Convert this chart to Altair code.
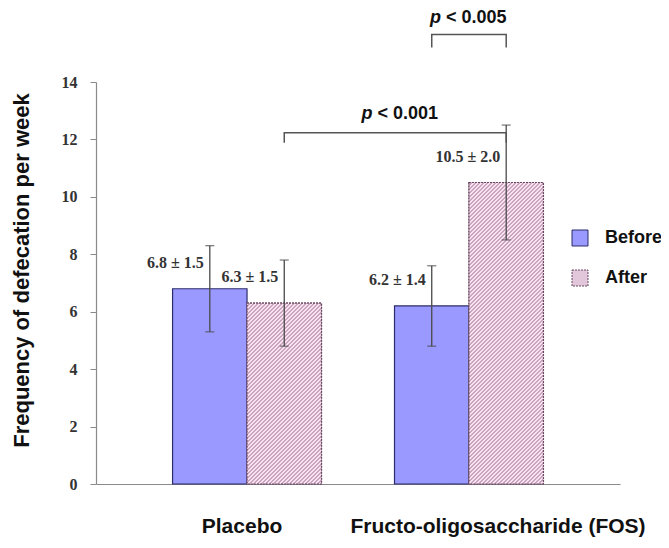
import altair as alt
import pandas as pd

# ---- data -------------------------------------------------------------
groups = ["Placebo", "Fructo-oligosaccharide (FOS)"]
phases = ["Before", "After"]
bar_group = ["Placebo", "Placebo",
             "Fructo-oligosaccharide (FOS)", "Fructo-oligosaccharide (FOS)"]
bar_phase = ["Before", "After", "Before", "After"]
means = [6.8, 6.3, 6.2, 10.5]
sds = [1.5, 1.5, 1.4, 2.0]
y_ticks = [0, 2, 4, 6, 8, 10, 12, 14]

# significance brackets (compared bars and bracket heights)
br_names = ["p < 0.001", "p < 0.005"]
br_from_group = ["Placebo", "Fructo-oligosaccharide (FOS)"]
br_from_phase = ["After", "Before"]
br_to_group = ["Fructo-oligosaccharide (FOS)", "Fructo-oligosaccharide (FOS)"]
br_to_phase = ["After", "After"]
br_top = [12.23, 15.65]
br_leg = [11.88, 15.2]

df = pd.DataFrame({"group": bar_group, "phase": bar_phase,
                   "mean": means, "sd": sds})
df["label"] = [f"{m:.1f} \u00b1 {s:.1f}" for m, s in zip(means, sds)]

rows = []
for i, name in enumerate(br_names):
    pts = [(br_from_group[i], br_from_phase[i], br_leg[i]),
           (br_from_group[i], br_from_phase[i], br_top[i]),
           (br_to_group[i], br_to_phase[i], br_top[i]),
           (br_to_group[i], br_to_phase[i], br_leg[i])]
    for k, (g, p, v) in enumerate(pts):
        rows.append({"bracket": name, "group": g, "phase": p, "y": v, "ord": k})
br_df = pd.DataFrame(rows)

p_df = pd.DataFrame({"bracket": br_names,
                     "group": ["Fructo-oligosaccharide (FOS)"] * 2,
                     "y": br_top,
                     "rest": [n[2:] for n in br_names]})

# ---- layout / style ---------------------------------------------------
W, H = 524, 402
Y_MAX = 14
P_IN, P_OUT = 0.329, 0.345
step = W / (len(groups) - P_IN + 2 * P_OUT)
bar_w = step * (1 - P_IN) / len(phases)

x_scale = alt.Scale(domain=groups, paddingInner=P_IN, paddingOuter=P_OUT)
xo_scale = alt.Scale(domain=phases, paddingInner=0, paddingOuter=0)
y_scale = alt.Scale(domain=[0, Y_MAX], nice=False, zero=True)

BLUE = "#9999FF"
PINK_AVG = "#E2C6DA"
LIGHT, DARK = "#F8E4EF", "#CBA4C2"


def hatch(w, h, period=4.0):
    """Diagonal '/' stripe fill expressed as a linear gradient (bbox units)."""
    k = (w + h) / (w * w + h * h)
    n = (w + h) / period
    stops = []
    i = 0
    while True:
        a, b, c = i / n, (i + 0.5) / n, (i + 1) / n
        if a >= 1:
            break
        stops.append({"offset": a, "color": LIGHT})
        stops.append({"offset": min(b, 1), "color": LIGHT})
        if b < 1:
            stops.append({"offset": b, "color": DARK})
            stops.append({"offset": min(c, 1), "color": DARK})
        i += 1
    return {"gradient": "linear", "x1": 0, "y1": 0,
            "x2": k * w, "y2": k * h, "stops": stops}


x_enc = alt.X("group:N", scale=x_scale, title=None, sort=groups,
              axis=alt.Axis(ticks=False, tickSize=0, domainColor="#8a8a8a",
                            domainWidth=1.2, labelAngle=0, labelLimit=0,
                            labelFont="Liberation Sans", labelFontWeight="bold",
                            labelFontSize=21, labelColor="#111111",
                            labelBaseline="alphabetic", labelPadding=48,
                            labelOffset={"condition": {"test": "datum.value === 'Placebo'",
                                                       "value": -5},
                                         "value": 29}))
xs = alt.X("group:N", scale=x_scale, sort=groups)
xo_enc = alt.XOffset("phase:N", scale=xo_scale, sort=phases)
y_enc = alt.Y("mean:Q", scale=y_scale, title="Frequency of defecation per week",
              axis=alt.Axis(values=y_ticks, grid=False, domainColor="#8a8a8a",
                            domainWidth=1.2, tickColor="#8a8a8a", tickSize=6,
                            labelFont="Liberation Serif", labelFontWeight="bold",
                            labelFontSize=16, labelColor="#333333",
                            labelPadding=13,
                            titleFont="Liberation Sans", titleFontWeight="bold",
                            titleFontSize=22, titleColor="#111111",
                            titleX=-63, titleY=188))

base = alt.Chart(df)

bars = base.mark_bar(strokeWidth=1.2).encode(
    x=x_enc,
    xOffset=xo_enc,
    y=y_enc,
    fill=alt.Fill("phase:N", sort=phases,
                  scale=alt.Scale(domain=phases, range=[BLUE, PINK_AVG]),
                  legend=alt.Legend(title=None, orient="none", legendX=475,
                                    legendY=147, padding=0, symbolType="square",
                                    symbolSize=256, symbolStrokeColor="#3a3a70",
                                    symbolStrokeWidth=1, labelOffset=16,
                                    rowPadding=20, labelFont="Liberation Sans",
                                    labelFontWeight="bold", labelFontSize=18,
                                    labelColor="#111111")),
    stroke=alt.Stroke("phase:N", sort=phases,
                      scale=alt.Scale(domain=phases, range=["#2B2B6B", "#6B4A63"]),
                      legend=None),
    strokeDash=alt.StrokeDash("phase:N", sort=phases,
                              scale=alt.Scale(domain=phases, range=[[1, 0], [2, 1]]),
                              legend=None),
)

# hatched overlays for the "After" bars
hatched = []
for g, p, m in zip(bar_group, bar_phase, means):
    if p != "After":
        continue
    h = m * H / Y_MAX
    layer = base.transform_filter(
        (alt.datum.group == g) & (alt.datum.phase == p)
    ).mark_bar(fill=hatch(bar_w, h), stroke="#6B4A63", strokeWidth=1.2,
               strokeDash=[2, 1]).encode(
        x=xs, xOffset=xo_enc, y=alt.Y("mean:Q", scale=y_scale))
    hatched.append(layer)

err = base.transform_calculate(
    lo="datum.mean - datum.sd", hi="datum.mean + datum.sd"
)
err_rule = err.mark_rule(color="#4a4a4a", strokeWidth=1.3).encode(
    x=xs, xOffset=xo_enc,
    y=alt.Y("lo:Q", scale=y_scale),
    y2="hi:Q",
)
cap_lo = err.mark_tick(color="#4a4a4a", size=9, thickness=1.3).encode(
    x=xs, xOffset=xo_enc, y=alt.Y("lo:Q", scale=y_scale),
)
cap_hi = err.mark_tick(color="#4a4a4a", size=9, thickness=1.3).encode(
    x=xs, xOffset=xo_enc, y=alt.Y("hi:Q", scale=y_scale),
)

vals = base.mark_text(align="right", baseline="middle", dx=-6, dy=-26,
                      font="Liberation Serif", fontWeight="bold", fontSize=16,
                      color="#333333").encode(
    x=xs, xOffset=xo_enc, y=alt.Y("mean:Q", scale=y_scale), text="label:N",
)

brackets = alt.Chart(br_df).mark_line(color="#555555", strokeWidth=1.5).encode(
    x=xs, xOffset=xo_enc,
    y=alt.Y("y:Q", scale=y_scale),
    detail="bracket:N",
    order="ord:Q",
)


def p_text(name, shift, dy):
    d = alt.Chart(p_df).transform_filter(alt.datum.bracket == name)
    enc = dict(x=xs, y=alt.Y("y:Q", scale=y_scale))
    p = d.mark_text(align="right", baseline="alphabetic", dx=-28 + shift, dy=dy,
                    font="Liberation Sans", fontWeight="bold", fontStyle="italic",
                    fontSize=18, color="#111111").encode(text=alt.value("p"), **enc)
    r = d.mark_text(align="left", baseline="alphabetic", dx=-23 + shift, dy=dy,
                    font="Liberation Sans", fontWeight="bold",
                    fontSize=18, color="#111111").encode(text="rest:N", **enc)
    return p + r


chart = alt.layer(
    bars, *hatched, err_rule, cap_lo, cap_hi, vals, brackets,
    p_text("p < 0.001", -68.5, -14), p_text("p < 0.005", 0, -12)
).properties(
    width=W, height=H,
    autosize=alt.AutoSizeParams(type="none"),
    padding={"left": 88, "top": 74, "right": 41, "bottom": 54},
    background="white",
).configure_view(stroke=None)

chart.save("out.html", embed_options={"renderer": "svg", "actions": False})
